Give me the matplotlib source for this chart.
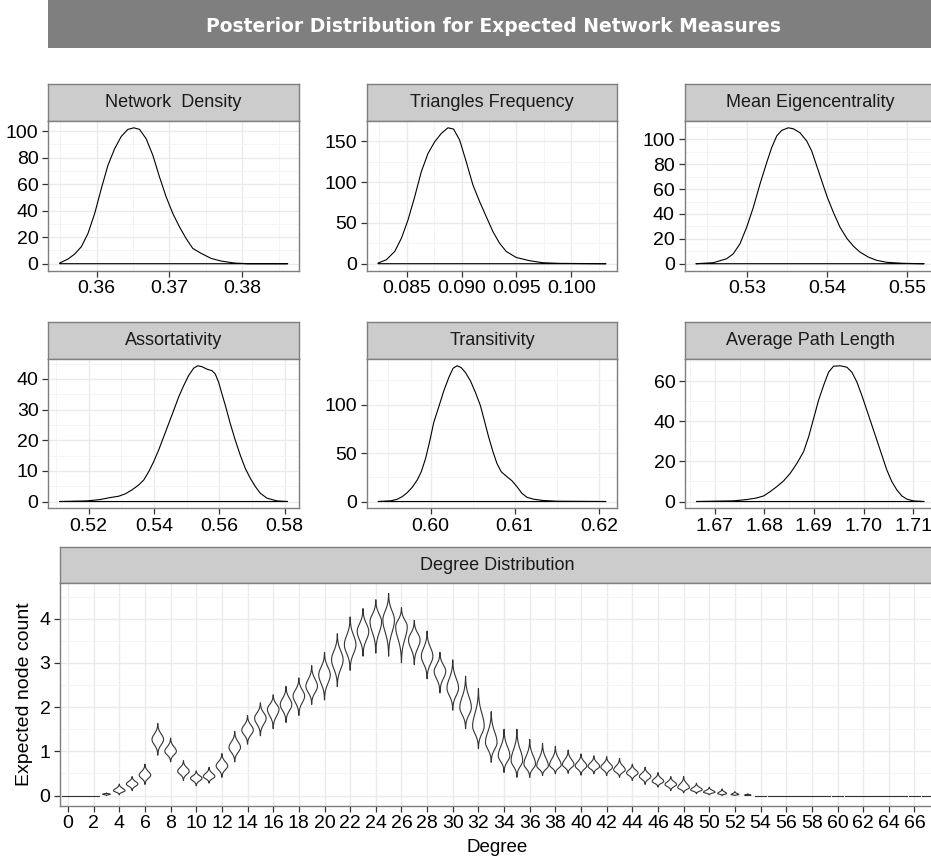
import numpy as np
import matplotlib.pyplot as plt
from matplotlib.ticker import FixedLocator

plt.rcParams['font.family'] = ['Liberation Sans', 'DejaVu Sans']

W, H = 931, 859

judul = "Posterior Distribution for Expected Network Measures"

# kurva densitas posterior
nd_x = [0.35493, 0.35607, 0.35699, 0.3579, 0.35881, 0.35973, 0.36064, 0.36155, 0.36247,
        0.36338, 0.36429, 0.36511, 0.36589, 0.3668, 0.36772, 0.36863, 0.36954, 0.37046,
        0.37137, 0.37228, 0.3732, 0.37434, 0.37571, 0.37708, 0.3789, 0.38073, 0.38621]
nd_y = [0.5, 3.5, 7.3, 12.8, 22.8, 37.8, 56.6, 74.2, 86.7, 96, 101.3, 102.5, 101.3, 94.2,
        81.7, 65.4, 50.4, 37.8, 27.8, 19, 11.5, 7.8, 4, 2, 0.5, 0, 0]

tri_x = [0.08239, 0.08315, 0.08391, 0.08452, 0.08512, 0.08573, 0.08633, 0.08694, 0.08755,
         0.08815, 0.08876, 0.08927, 0.08982, 0.09042, 0.09103, 0.09164, 0.09224, 0.09285,
         0.09345, 0.09406, 0.09497, 0.09618, 0.09739, 0.09891, 0.10315]
tri_y = [0.8, 4.9, 15.1, 31.4, 53.8, 82.3, 112.9, 135.3, 149.6, 159.8, 166.7, 165.1, 151.7,
         125.2, 96.6, 76.2, 57.9, 39.5, 25.3, 15.1, 7.7, 3.7, 1.2, 0.4, 0]

eig_x = [0.52358, 0.52575, 0.52742, 0.52825, 0.52908, 0.52992, 0.53075, 0.53158, 0.53242,
         0.53304, 0.53367, 0.53429, 0.53512, 0.53575, 0.53658, 0.53742, 0.53804, 0.53867,
         0.53929, 0.54, 0.54075, 0.54158, 0.54242, 0.54325, 0.54408, 0.54512, 0.54617,
         0.54742, 0.5495, 0.55208]
eig_y = [0, 0.8, 4, 8, 16, 29.3, 45.3, 64, 81.3, 93.3, 102.7, 107.2, 109.3, 108.5, 105.3,
         98.7, 90.7, 78.7, 66.7, 53.3, 41.3, 29.3, 20.5, 14.1, 9.3, 5.3, 2.7, 1.1, 0.3, 0]

ass_x = [0.51112, 0.51949, 0.52357, 0.52663, 0.52918, 0.53122, 0.53327, 0.53531, 0.53684,
         0.53837, 0.5399, 0.54143, 0.54296, 0.54449, 0.54602, 0.54755, 0.54908, 0.55061,
         0.55214, 0.55337, 0.5547, 0.55622, 0.55776, 0.55878, 0.5598, 0.56082, 0.56184,
         0.56337, 0.5649, 0.56643, 0.56796, 0.56949, 0.57102, 0.57255, 0.57459, 0.57765,
         0.58092]
ass_y = [0, 0.2, 0.65, 1.3, 1.73, 2.5, 3.8, 5.4, 7.0, 9.7, 13.0, 16.8, 21.1, 25.4, 29.7,
         34.1, 37.8, 41.1, 43.5, 44.3, 44.0, 43.2, 42.7, 41.6, 38.9, 35.1, 31.4, 25.4, 20.0,
         15.1, 10.8, 7.6, 4.9, 2.7, 1.1, 0.2, 0]

tra_x = [0.59377, 0.59527, 0.59606, 0.59665, 0.59724, 0.59783, 0.59842, 0.5989, 0.59941,
         0.59988, 0.60039, 0.60099, 0.60158, 0.60217, 0.60268, 0.60316, 0.60363, 0.60414,
         0.60473, 0.60533, 0.60592, 0.60639, 0.6069, 0.60742, 0.60789, 0.6084, 0.60907,
         0.60966, 0.61026, 0.61085, 0.61144, 0.61223, 0.61341, 0.61499, 0.62083]
tra_y = [0, 0.7, 2.4, 5.1, 9.2, 14.7, 22.2, 30.7, 44.4, 61.4, 81.9, 98.0, 114.3, 127.9,
         137.5, 140.0, 138.2, 133.1, 124.6, 112.6, 99.0, 83.6, 66.6, 51.2, 39.2, 30.7, 25.6,
         21.5, 15.4, 8.5, 4.4, 2.4, 1.0, 0.3, 0]

apl_x = [1.66631, 1.67383, 1.67651, 1.67852, 1.67987, 1.68121, 1.68255, 1.68389, 1.68523,
         1.68658, 1.68792, 1.68893, 1.68993, 1.69094, 1.69195, 1.69295, 1.69396, 1.6953,
         1.69664, 1.69765, 1.69866, 1.69966, 1.70067, 1.70168, 1.70268, 1.70369, 1.7047,
         1.70571, 1.70671, 1.70772, 1.70872, 1.71007, 1.71221]
apl_y = [0, 0.33, 1.0, 1.8, 2.8, 5.0, 7.5, 10.3, 14.1, 19.1, 24.9, 32.3, 41.4, 50.6, 58.0,
         64.6, 67.6, 67.8, 67.1, 64.6, 59.7, 53.0, 45.6, 38.1, 30.7, 23.2, 15.7, 9.9, 5.8,
         2.8, 1.2, 0.3, 0]

# distribusi derajat: pusat, batas bawah, batas atas tiap violin
derajat = list(range(68))
pusat = [0, 0, 0, 0.03, 0.11, 0.26, 0.46, 1.27, 1.0, 0.55, 0.39, 0.43, 0.67, 1.09, 1.48,
         1.75, 1.95, 2.06, 2.25, 2.47, 2.73, 3.07, 3.41, 3.71, 3.93, 3.97, 3.82, 3.52, 3.15,
         2.81, 2.43, 1.99, 1.57, 1.20, 0.90, 0.79, 0.71, 0.67, 0.69, 0.70, 0.67, 0.66, 0.64,
         0.58, 0.51, 0.43, 0.32, 0.25, 0.18, 0.13, 0.075, 0.045, 0.022, 0.008] + [0] * 14
atas = [0, 0, 0, 0.06, 0.26, 0.43, 0.71, 1.63, 1.30, 0.79, 0.56, 0.64, 0.95, 1.45, 1.81,
        2.10, 2.28, 2.47, 2.66, 2.94, 3.24, 3.66, 4.04, 4.23, 4.43, 4.57, 4.25, 3.96, 3.72,
        3.24, 3.07, 2.70, 2.42, 1.90, 1.50, 1.50, 1.27, 1.18, 1.11, 1.03, 0.94, 0.90, 0.88,
        0.84, 0.71, 0.64, 0.52, 0.43, 0.43, 0.28, 0.19, 0.15, 0.09, 0.04] + [0] * 14
bawah = [0, 0, 0, 0.0, 0.015, 0.11, 0.25, 0.91, 0.76, 0.34, 0.22, 0.28, 0.41, 0.76, 1.16,
         1.35, 1.51, 1.65, 1.81, 2.06, 2.16, 2.46, 2.83, 3.15, 3.22, 3.15, 3.0, 2.96, 2.64,
         2.32, 1.93, 1.51, 1.06, 0.75, 0.52, 0.41, 0.41, 0.45, 0.49, 0.50, 0.46, 0.49, 0.45,
         0.41, 0.34, 0.25, 0.19, 0.11, 0.06, 0.04, 0.015, 0, 0, 0] + [0] * 14
lebar = [0.45] * 68
lebar[3] = 0.3
lebar[51] = 0.35
lebar[52] = 0.3
lebar[53] = 0.25

fig = plt.figure(figsize=(W / 100, H / 100), dpi=100)


def kotak(x0, y0, x1, y1):
    return fig.add_axes([x0 / W, 1 - y1 / H, (x1 - x0) / W, (y1 - y0) / H])


def strip(x0, y0, x1, y1, teks):
    s = kotak(x0, y0, x1, y1)
    s.set_facecolor('#CCCCCC')
    s.set_xticks([])
    s.set_yticks([])
    for sp in s.spines.values():
        sp.set_color('#7F7F7F')
        sp.set_linewidth(1.0)
    s.text(0.5, 0.5, teks, ha='center', va='center', fontsize=13, color='#1A1A1A',
           transform=s.transAxes)


def gaya(ax, xt, yt, xlab, xminor, yminor):
    ax.set_xticks(xt)
    ax.set_xticklabels(xlab)
    ax.set_yticks(yt)
    ax.xaxis.set_minor_locator(FixedLocator(xminor))
    ax.yaxis.set_minor_locator(FixedLocator(yminor))
    ax.grid(True, which='major', color='#EBEBEB', lw=1.0)
    ax.grid(True, which='minor', color='#F4F4F4', lw=0.7)
    ax.set_axisbelow(True)
    ax.tick_params(which='major', length=4.5, width=0.9, color='#333333', labelsize=14,
                   pad=2.5, labelcolor='black')
    ax.tick_params(which='minor', length=0)
    for sp in ax.spines.values():
        sp.set_color('#7F7F7F')
        sp.set_linewidth(1.0)


def tengah(t):
    t = list(t)
    d = t[1] - t[0]
    return [t[0] - d / 2] + [a + d / 2 for a in t]


# judul
bar = kotak(48, 0, 936, 48)
bar.set_facecolor('#7F7F7F')
bar.set_xticks([])
bar.set_yticks([])
for sp in bar.spines.values():
    sp.set_visible(False)
bar.text(0.502, 0.44, judul, ha='center', va='center', color='white', fontsize=13.5,
         fontweight='bold', family=['DejaVu Sans'], transform=bar.transAxes)

panel = [
    (nd_x, nd_y, "Network  Density", 48.3, 299, 84, 121, 270.5,
     [0.36, 0.37, 0.38], ["0.36", "0.37", "0.38"], [0, 20, 40, 60, 80, 100]),
    (tri_x, tri_y, "Triangles Frequency", 366.7, 617.3, 84, 121, 270.5,
     [0.085, 0.09, 0.095, 0.1], ["0.085", "0.090", "0.095", "0.100"], [0, 50, 100, 150]),
    (eig_x, eig_y, "Mean Eigencentrality", 684.5, 935.5, 84, 121, 270.5,
     [0.53, 0.54, 0.55], ["0.53", "0.54", "0.55"], [0, 20, 40, 60, 80, 100]),
    (ass_x, ass_y, "Assortativity", 48.3, 299, 322.3, 359, 508.3,
     [0.52, 0.54, 0.56, 0.58], ["0.52", "0.54", "0.56", "0.58"], [0, 10, 20, 30, 40]),
    (tra_x, tra_y, "Transitivity", 366.7, 617.3, 322.3, 359, 508.3,
     [0.60, 0.61, 0.62], ["0.60", "0.61", "0.62"], [0, 50, 100]),
    (apl_x, apl_y, "Average Path Length", 685, 935.5, 322.3, 359, 508.3,
     [1.67, 1.68, 1.69, 1.70, 1.71], ["1.67", "1.68", "1.69", "1.70", "1.71"], [0, 20, 40, 60]),
]

for x, y, nama, x0, x1, ys, y0, y1, xt, xl, yt in panel:
    strip(x0, ys, x1, y0, nama)
    ax = kotak(x0, y0, x1, y1)
    px = np.concatenate([x, [x[-1], x[0]]])
    py = np.concatenate([y, [0, 0]])
    ax.fill(px, py, facecolor='none', edgecolor='black', lw=0.8, joinstyle='round')
    gaya(ax, xt, yt, xl, tengah(xt), tengah(yt))
    ax.set_xlim(min(x) - 0.05 * (max(x) - min(x)), max(x) + 0.05 * (max(x) - min(x)))
    ax.set_ylim(-0.05 * max(y), 1.05 * max(y))

# distribusi derajat
strip(60.3, 547.3, 935, 583.3, "Degree Distribution")
ax = kotak(60.3, 583.3, 935, 805.7)
for d, c, lo, hi, w in zip(derajat, pusat, bawah, atas, lebar):
    if hi - lo < 1e-6:
        ax.plot([d - w, d + w], [0, 0], color='#333333', lw=0.8)
        continue
    t = np.linspace(lo, hi, 120)
    s_up = max(hi - c, 1e-3) / 3.0
    s_dn = max(c - lo, 1e-3) / 3.0
    s = np.where(t >= c, s_up, s_dn)
    hw = w * np.exp(-0.5 * ((t - c) / s) ** 2)
    vx = np.concatenate([d - hw, (d + hw)[::-1]])
    vy = np.concatenate([t, t[::-1]])
    ax.fill(vx, vy, facecolor='white', edgecolor='#333333', lw=0.8)

yt = [0, 1, 2, 3, 4]
xt = derajat[::2][:34]
gaya(ax, xt, yt, [str(v) for v in xt], [], tengah(yt))
ax.set_xlim(-0.6, 67.6)
ax.set_ylim(-0.23, 4.8)

fig.text(25 / W, 1 - 694.5 / H, "Expected node count", rotation=90, ha='center',
         va='center', fontsize=14, color='black')
fig.text(497.6 / W, 1 - 848 / H, "Degree", ha='center', va='center', fontsize=13.5,
         color='black')

fig.savefig("out.png", dpi=100)
